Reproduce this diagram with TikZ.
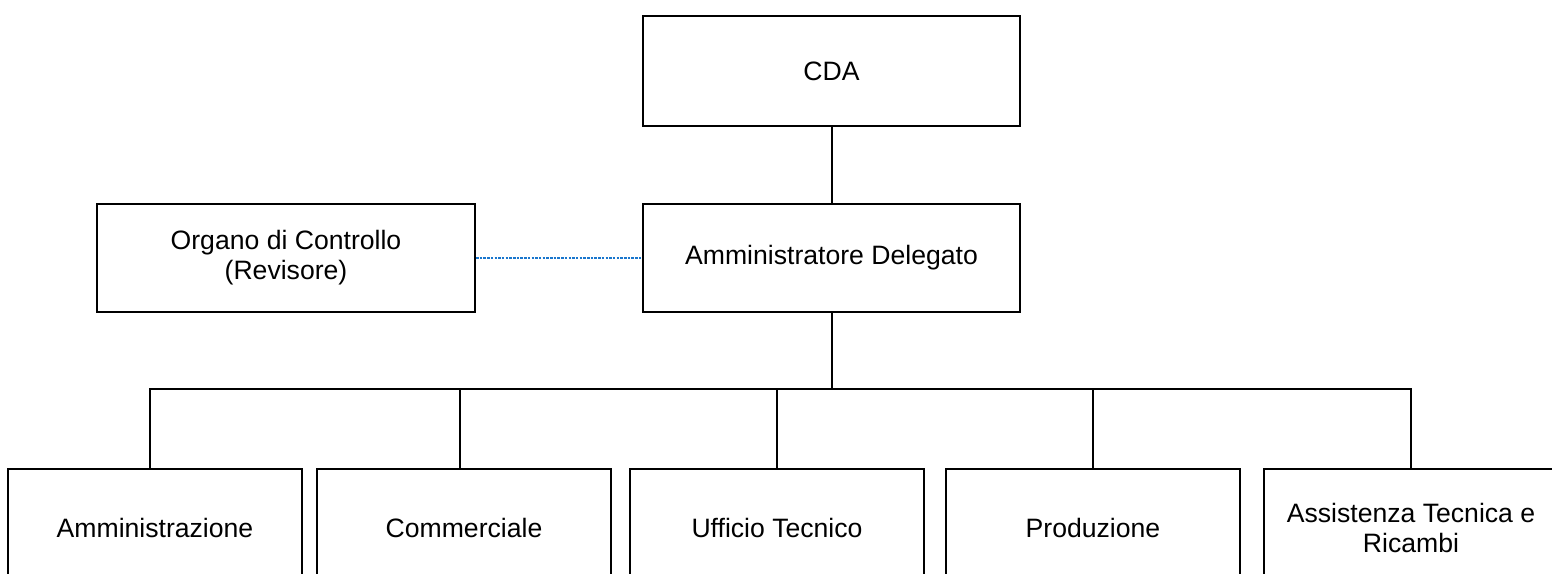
\documentclass[tikz,border=0pt]{standalone}
\usepackage{fontspec}
\setmainfont{Liberation Sans}
\begin{document}
\begin{tikzpicture}[x=1pt,y=-1pt,
  box/.style={draw=black,line width=2pt,fill=white,rectangle,align=center,
    font=\fontsize{26.6}{30}\selectfont,inner sep=0pt},
  topbox/.style={box,minimum width=377pt,minimum height=110pt},
  lowbox/.style={box,minimum width=294pt,minimum height=118pt},
  link/.style={line width=2pt,black},
  dotlink/.style={line width=2pt,color={rgb,255:red,25;green,118;blue,205},dash pattern=on 2.5pt off 1.2pt}]
\useasboundingbox (0,0) rectangle (1552,573);
\clip (0,0) rectangle (1552,573);
\node[topbox] (cda) at (831.5,71) {CDA};
\node[topbox,minimum height=108pt] (ad) at (831.5,258) {Amministratore Delegato};
\node[box,minimum width=378pt,minimum height=108pt] (org) at (286,258) {Organo di Controllo\\(Revisore)};
\node[lowbox] (b1) at (155,528) {Amministrazione};
\node[lowbox] (b2) at (464,528) {Commerciale};
\node[lowbox] (b3) at (777,528) {Ufficio Tecnico};
\node[lowbox] (b4) at (1093,528) {Produzione};
\node[lowbox] (b5) at (1411,528) {Assistenza Tecnica e\\Ricambi};
\coordinate (bus) at (831.5,389);
\draw[link] (cda.south) -- (ad.north);
\draw[dotlink] (org.east) -- (ad.west);
\draw[link] (ad.south) -- (bus);
\draw[link] (bus) -| ([xshift=-5pt]b1.north);
\draw[link] (bus) -| ([xshift=-4pt]b2.north);
\draw[link] (bus) -| (b3.north);
\draw[link] (bus) -| (b4.north);
\draw[link] (bus) -| (b5.north);
\end{tikzpicture}
\end{document}
